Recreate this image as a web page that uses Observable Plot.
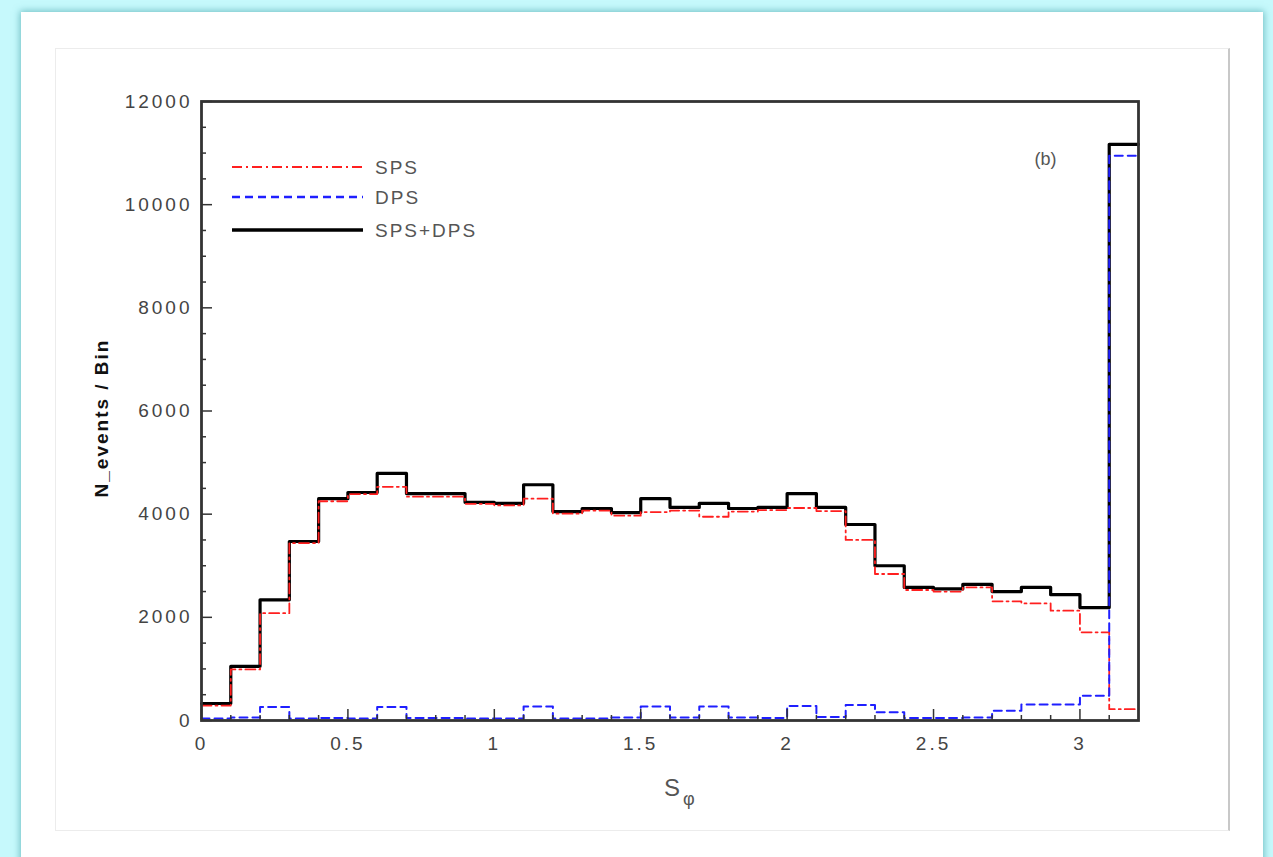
<!DOCTYPE html>
<html>
<head>
<meta charset="utf-8">
<script src="https://cdn.jsdelivr.net/npm/d3@7"></script>
<script src="https://cdn.jsdelivr.net/npm/@observablehq/plot@0.6"></script>
<style>
  html, body { margin: 0; padding: 0; }
  body { width: 1273px; height: 857px; overflow: hidden; background: #c6f9fc; position: relative; font-family: "Liberation Sans", Arial, sans-serif; }
  #panel { position: absolute; left: 21px; top: 12px; width: 1242px; height: 860px; background: #fff; box-shadow: 0 0 7px 1px rgba(40,140,150,0.55); }
  #box { position: absolute; left: 55px; top: 48px; width: 1172px; height: 781px; border: 1px solid #ececec; border-right: 2px solid #c8c8c8; }
  #chart { position: absolute; left: 55px; top: 48px; }
  #overlay { position: absolute; left: 0; top: 0; }
  #chart g[aria-label="x-axis tick label"] text,
  #chart g[aria-label="y-axis tick label"] text { letter-spacing: 3px; }
</style>
</head>
<body>
<div id="panel"></div>
<div id="box"></div>
<div id="chart"></div>
<svg id="overlay" width="1273" height="857"></svg>
<script>
// ---- data ----
const binStarts = [0, 0.1, 0.2, 0.3, 0.4, 0.5, 0.6, 0.7, 0.8, 0.9, 1.0, 1.1, 1.2, 1.3, 1.4, 1.5,
                   1.6, 1.7, 1.8, 1.9, 2.0, 2.1, 2.2, 2.3, 2.4, 2.5, 2.6, 2.7, 2.8, 2.9, 3.0, 3.1];
const lastEdge = 3.2;
const sps   = [290, 990, 2080, 3440, 4250, 4390, 4530, 4340, 4340, 4200, 4170, 4300, 4010, 4070, 3970, 4040,
               4070, 3950, 4050, 4080, 4120, 4060, 3500, 2840, 2530, 2500, 2580, 2310, 2270, 2130, 1710, 220];
const dps   = [40, 60, 260, 40, 50, 40, 260, 50, 50, 40, 40, 270, 40, 40, 60, 270,
               60, 270, 60, 50, 280, 70, 300, 160, 50, 50, 60, 190, 310, 310, 480, 10950];
const total = [330, 1050, 2340, 3470, 4300, 4420, 4790, 4400, 4400, 4230, 4210, 4570, 4050, 4110, 4030, 4300,
               4130, 4210, 4110, 4130, 4400, 4130, 3800, 3000, 2580, 2550, 2640, 2500, 2580, 2440, 2190, 11170];
const xTickValues = [0, 0.5, 1, 1.5, 2, 2.5, 3];
const xTickLabels = ["0", "0.5", "1", "1.5", "2", "2.5", "3"];
const yTickValues = [0, 2000, 4000, 6000, 8000, 10000, 12000];
const yTickLabels = ["0", "2000", "4000", "6000", "8000", "10000", "12000"];
const seriesNames = ["SPS", "DPS", "SPS+DPS"];
const yLabel = "N_events / Bin";
const panelTag = "(b)";

// ---- build rows for step lines ----
const rows = binStarts.map((x, i) => ({x, sps: sps[i], dps: dps[i], total: total[i]}));
rows.push({x: lastEdge, sps: sps[sps.length - 1], dps: dps[dps.length - 1], total: total[total.length - 1]});

const xMinor = d3.range(0, 32).map(i => +(i * 0.1).toFixed(1)).filter(v => !xTickValues.includes(v));
const yMinor = d3.range(500, 12000, 500).filter(v => !yTickValues.includes(v));

const W = 1174, H = 782;
const mL = 146, mR = 91, mT = 53, mB = 110;
const innerW = W - mL - mR, innerH = H - mT - mB;

const colors = {sps: "#ff1f1f", dps: "#1f1fff", total: "#000000"};
const dashes = {sps: "10,4,2,4", dps: "8,5", total: null};

const chart = Plot.plot({
  width: W, height: H,
  marginLeft: mL, marginRight: mR, marginTop: mT, marginBottom: mB,
  style: {background: "transparent", fontFamily: "'Liberation Sans', Arial, sans-serif", color: "#444"},
  x: {domain: [0, lastEdge]},
  y: {domain: [0, 12000]},
  marks: [
    Plot.line(rows, {x: "x", y: "total", curve: "step-after", stroke: colors.total, strokeWidth: 3.2}),
    Plot.line(rows, {x: "x", y: "sps", curve: "step-after", stroke: colors.sps, strokeWidth: 1.8, strokeDasharray: dashes.sps}),
    Plot.line(rows, {x: "x", y: "dps", curve: "step-after", stroke: colors.dps, strokeWidth: 2, strokeDasharray: dashes.dps}),
    Plot.ruleX(xMinor, {x: d => d, insetTop: innerH - 5, stroke: "#333", strokeWidth: 1.5}),
    Plot.ruleX(xTickValues, {x: d => d, insetTop: innerH - 11, stroke: "#333", strokeWidth: 1.5}),
    Plot.ruleY(yMinor, {y: d => d, insetRight: innerW - 5, stroke: "#333", strokeWidth: 1.5}),
    Plot.ruleY(yTickValues, {y: d => d, insetRight: innerW - 11, stroke: "#333", strokeWidth: 1.5}),
    Plot.axisX(xTickValues, {tickSize: 0, tickPadding: 16, fontSize: 19, label: null,
      tickFormat: d => xTickLabels[xTickValues.indexOf(d)]}),
    Plot.axisY(yTickValues, {tickSize: 0, tickPadding: 9, fontSize: 19, label: null,
      tickFormat: d => yTickLabels[yTickValues.indexOf(d)]}),
    Plot.frame({stroke: "#333", strokeWidth: 2.8}),
    Plot.text([panelTag], {frameAnchor: "top-right", dx: -82, dy: 51, fontSize: 18, fill: "#555"})
  ]
});
document.getElementById("chart").appendChild(chart);

// ---- overlay: legend, axis titles ----
const ov = d3.select("#overlay");
const legendKeys = ["sps", "dps", "total"];
const legendY = [167, 197, 230];
legendKeys.forEach((k, i) => {
  ov.append("line").attr("x1", 232).attr("x2", 363).attr("y1", legendY[i]).attr("y2", legendY[i])
    .attr("stroke", colors[k]).attr("stroke-width", k === "total" ? 3.5 : (k === "sps" ? 2.2 : 2.5))
    .attr("stroke-dasharray", dashes[k]);
  ov.append("text").attr("x", 375).attr("y", legendY[i]).attr("dy", "0.36em")
    .attr("font-size", 19).attr("fill", "#555").attr("letter-spacing", "2px")
    .attr("font-family", "'Liberation Sans', Arial, sans-serif")
    .text(seriesNames[i]);
});
ov.append("text").attr("transform", "translate(108,418) rotate(-90)")
  .attr("text-anchor", "middle").attr("font-size", 19).attr("font-weight", "bold")
  .attr("letter-spacing", "2px").attr("fill", "#111")
  .attr("font-family", "'Liberation Sans', Arial, sans-serif")
  .text(yLabel);
const xl = ov.append("text").attr("x", 664).attr("y", 796).attr("fill", "#555")
  .attr("font-family", "'Liberation Sans', Arial, sans-serif");
xl.append("tspan").attr("font-size", 24).text("S");
xl.append("tspan").attr("font-size", 18).attr("dx", 3).attr("dy", 9).text("φ");
</script>
</body>
</html>
